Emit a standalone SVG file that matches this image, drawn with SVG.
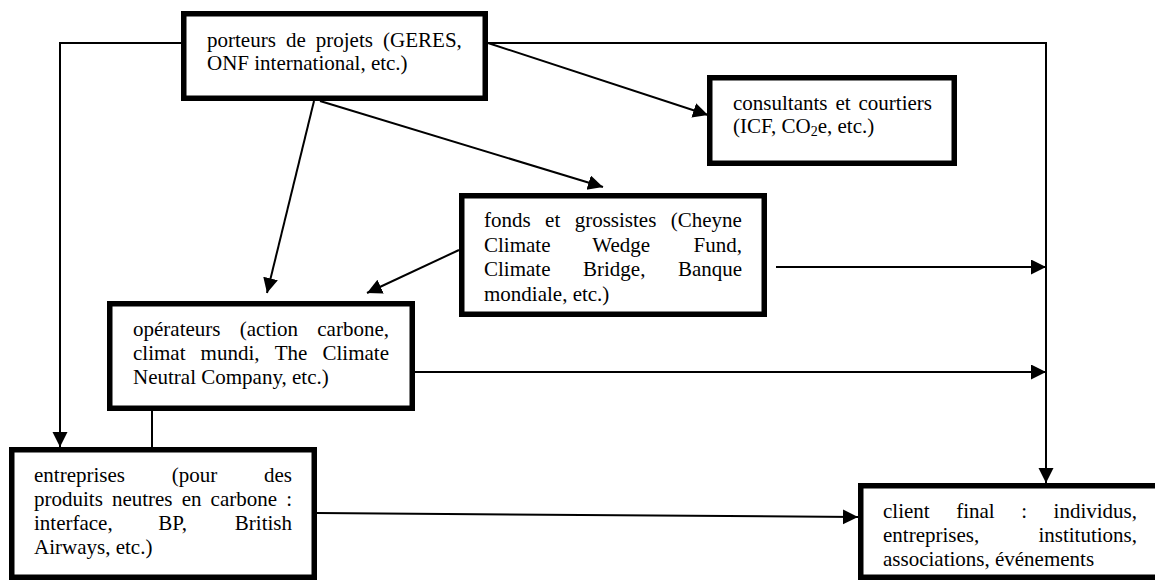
<svg xmlns="http://www.w3.org/2000/svg" width="1155" height="581" viewBox="0 0 1155 581">
<style>
.box{fill:#fff;stroke:#000;stroke-width:5.5}
.t{font-family:"Liberation Serif","Times New Roman",serif;font-size:21px;fill:#000}
.c{fill:none;stroke:#000;stroke-width:2}
.a{marker-end:url(#arr)}
</style>
<defs>
<marker id="arr" markerUnits="userSpaceOnUse" markerWidth="16" markerHeight="16" refX="15" refY="7.5" orient="auto">
<path d="M0,0 L15,7.5 L0,15 z" fill="#000"/>
</marker>
</defs>
<rect width="1155" height="581" fill="#fff"/>
<g id="connectors">
<path class="c a" d="M181,43 H60 V447"/>
<path class="c a" d="M488,43 H1046 V483"/>
<line class="c a" x1="488" y1="43" x2="708" y2="115"/>
<line class="c a" x1="314" y1="101" x2="267" y2="293"/>
<line class="c a" x1="320" y1="101" x2="603" y2="187"/>
<line class="c a" x1="459" y1="250" x2="367" y2="293"/>
<line class="c a" x1="776" y1="267" x2="1046" y2="267"/>
<line class="c a" x1="415" y1="372" x2="1046" y2="372"/>
<line class="c" x1="152" y1="411" x2="152" y2="447"/>
<line class="c a" x1="317" y1="513" x2="858" y2="517"/>
</g>
<g id="porteurs">
<rect class="box" x="183.75" y="13.75" width="301.5" height="84.5"/>
<text class="t" y="47"><tspan x="207">porteurs</tspan><tspan x="285.9">de</tspan><tspan x="315.8">projets</tspan><tspan x="383.1">(GERES,</tspan></text>
<text class="t" x="207" y="70">ONF international, etc.)</text>
</g>
<g id="consultants">
<rect class="box" x="709.75" y="77.75" width="244.5" height="85.5"/>
<text class="t" y="110"><tspan x="733">consultants</tspan><tspan x="835.4">et</tspan><tspan x="858.5">courtiers</tspan></text>
<text class="t" x="733" y="133">(ICF, CO<tspan font-size="14" dy="3">2</tspan><tspan dy="-3">e, etc.)</tspan></text>
</g>
<g id="fonds">
<rect class="box" x="461.75" y="195.75" width="302.5" height="118.5"/>
<text class="t" y="227"><tspan x="484">fonds</tspan><tspan x="545.1">et</tspan><tspan x="574.7">grossistes</tspan><tspan x="670.8">(Cheyne</tspan></text>
<text class="t" y="251.5"><tspan x="484">Climate</tspan><tspan x="592.3">Wedge</tspan><tspan x="693.6">Fund,</tspan></text>
<text class="t" y="276"><tspan x="484">Climate</tspan><tspan x="583">Bridge,</tspan><tspan x="677.9">Banque</tspan></text>
<text class="t" x="484" y="300.5">mondiale, etc.)</text>
</g>
<g id="operateurs">
<rect class="box" x="109.75" y="303.75" width="302.5" height="104.5"/>
<text class="t" y="336"><tspan x="133">opérateurs</tspan><tspan x="239.7">(action</tspan><tspan x="317.3">carbone,</tspan></text>
<text class="t" y="360"><tspan x="133">climat</tspan><tspan x="200.6">mundi,</tspan><tspan x="274.7">The</tspan><tspan x="322.5">Climate</tspan></text>
<text class="t" x="133" y="384">Neutral Company, etc.)</text>
</g>
<g id="entreprises">
<rect class="box" x="11.75" y="449.75" width="302.5" height="127.5"/>
<text class="t" y="482"><tspan x="34">entreprises</tspan><tspan x="171.75">(pour</tspan><tspan x="264">des</tspan></text>
<text class="t" y="506"><tspan x="34">produits</tspan><tspan x="111.9">neutres</tspan><tspan x="181.7">en</tspan><tspan x="210.6">carbone</tspan><tspan x="286.2">:</tspan></text>
<text class="t" y="530"><tspan x="34">interface,</tspan><tspan x="158.3">BP,</tspan><tspan x="234.8">British</tspan></text>
<text class="t" x="34" y="554">Airways, etc.)</text>
</g>
<g id="client">
<rect class="box" x="860.75" y="485.75" width="300" height="91.5"/>
<text class="t" y="518"><tspan x="883">client</tspan><tspan x="956.2">final</tspan><tspan x="1021.2">:</tspan><tspan x="1053.6">individus,</tspan></text>
<text class="t" y="542"><tspan x="883">entreprises,</tspan><tspan x="1038.4">institutions,</tspan></text>
<text class="t" x="883" y="566">associations, événements</text>
</g>
</svg>
